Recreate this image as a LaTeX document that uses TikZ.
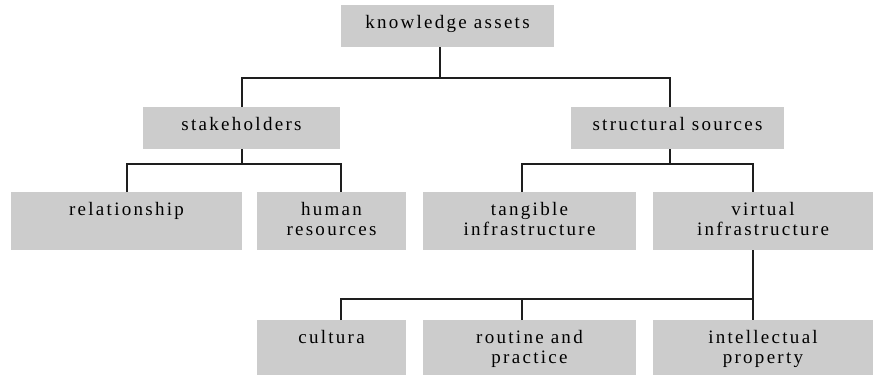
\documentclass[tikz,border=0pt]{standalone}
\usepackage{fontspec}
\setmainfont{Liberation Serif}[LetterSpace=12]
\definecolor{boxgray}{RGB}{204,204,204}
\definecolor{linecol}{RGB}{30,30,30}
\tikzset{
  kbox/.style={fill=boxgray, inner sep=0pt, outer sep=0pt, anchor=north west,
               font=\fontsize{19pt}{20.5pt}\selectfont},
  conn/.style={draw=linecol, line width=1.7pt, line join=miter}
}
\newcommand{\boxtext}[3]{\parbox[c][#2][t]{#1}{\centering\baselineskip=20.5pt\rule{0pt}{23pt}#3\par}}
\begin{document}
\begin{tikzpicture}[x=1pt,y=-1pt]
\useasboundingbox (0,0) rectangle (873,375);
% boxes
\node[kbox] (ka) at (341,5)   {\boxtext{213pt}{42pt}{knowledge assets}};
\node[kbox] (sh) at (143,107) {\boxtext{197pt}{42pt}{stakeholders}};
\node[kbox] (ss) at (571,107) {\boxtext{213pt}{42pt}{structural sources}};
\node[kbox] (rel) at (11,192) {\boxtext{231pt}{58pt}{relationship}};
\node[kbox] (hr) at (257,192) {\boxtext{149pt}{58pt}{human\\resources}};
\node[kbox] (tg) at (423,192) {\boxtext{213pt}{58pt}{tangible\\infrastructure}};
\node[kbox] (vi) at (653,192) {\boxtext{220pt}{58pt}{virtual\\infrastructure}};
\node[kbox] (cu) at (257,320) {\boxtext{149pt}{55pt}{cultura}};
\node[kbox] (ro) at (423,320) {\boxtext{213pt}{55pt}{routine and\\practice}};
\node[kbox] (ip) at (653,320) {\boxtext{220pt}{55pt}{intellectual\\property}};
% attachment points
\coordinate (kaS) at ([xshift=99pt]ka.south west);
\coordinate (shN) at ([xshift=99pt]sh.north west);
\coordinate (shS) at ([xshift=99pt]sh.south west);
\coordinate (ssN) at ([xshift=99pt]ss.north west);
\coordinate (ssS) at ([xshift=99pt]ss.south west);
\coordinate (relN) at ([xshift=116pt]rel.north west);
\coordinate (hrN) at ([xshift=84pt]hr.north west);
\coordinate (tgN) at ([xshift=99pt]tg.north west);
\coordinate (viN) at ([xshift=100pt]vi.north west);
\coordinate (viS) at ([xshift=100pt]vi.south west);
\coordinate (cuN) at ([xshift=84pt]cu.north west);
\coordinate (roN) at ([xshift=99pt]ro.north west);
\coordinate (ipN) at ([xshift=100pt]ip.north west);
\coordinate (b1) at (0,78);
\coordinate (b2) at (0,164);
\coordinate (b3) at (0,299);
% connectors
\draw[conn] (kaS) -- (kaS |- b1);
\draw[conn] (shN) |- (ssN |- b1) -- (ssN);
\draw[conn] (shS) -- (shS |- b2);
\draw[conn] (relN) |- (hrN |- b2) -- (hrN);
\draw[conn] (ssS) -- (ssS |- b2);
\draw[conn] (tgN) |- (viN |- b2) -- (viN);
\draw[conn] (viS) -- (ipN);
\draw[conn] (cuN) |- (viS |- b3);
\draw[conn] (roN) -- (roN |- b3);
\end{tikzpicture}
\end{document}
